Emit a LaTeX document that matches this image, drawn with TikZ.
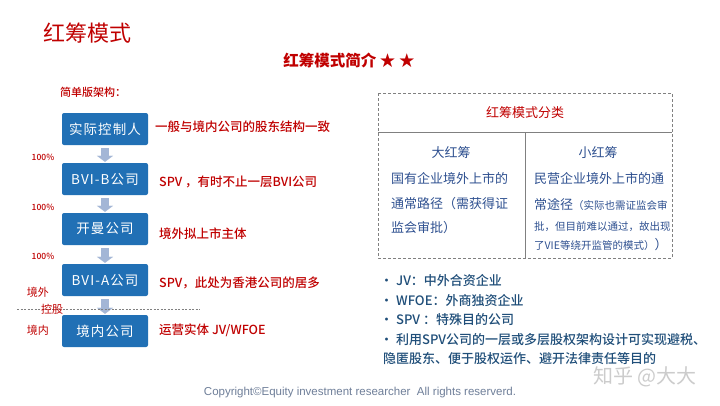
\documentclass[tikz,border=0pt]{standalone}
\usepackage{fontspec}
\setmainfont{Noto Sans CJK SC}
\newfontfamily\medfont{Noto Sans CJK SC Medium}
\newfontfamily\boxfont[LetterSpace=8]{Noto Sans CJK SC}
\newfontfamily\footfont{Liberation Sans}
\usetikzlibrary{positioning, arrows.meta}
\definecolor{hcred}{HTML}{C00000}
\definecolor{hcblue}{HTML}{2170B5}
\definecolor{hcarrow}{HTML}{A3B6D6}
\definecolor{hcnavy}{HTML}{2E5090}
\definecolor{hcdeep}{HTML}{1F4E79}
\definecolor{hcgrey}{HTML}{808080}
\definecolor{hcfoot}{HTML}{6F7F99}
\definecolor{hcmark}{HTML}{CCCCCC}

\tikzset{
  entity/.style={fill=hcblue, rounded corners=2pt, text=white, inner sep=0pt,
                 minimum width=86pt, minimum height=32pt,
                 font=\boxfont\fontsize{13.5}{16}\selectfont},
  note/.style={anchor=west, text=hcred, inner sep=0pt,
               font=\medfont\fontsize{12.5}{15}\selectfont},
  pct/.style={text=hcred, inner sep=0pt, font=\medfont\fontsize{8.5}{10}\selectfont},
  side/.style={text=hcred, inner sep=0pt, font=\fontsize{11}{13}\selectfont},
  flow/.style={draw=hcarrow, line width=8pt,
               -{Triangle[width=16pt,length=6pt,line width=0.1pt]},
               shorten <=3pt, shorten >=1pt},
  classtext/.style={anchor=west, text=hcnavy, inner sep=0pt,
                    font=\fontsize{13}{15}\selectfont},
  bullet/.style={anchor=west, text=hcdeep, inner sep=0pt,
                 font=\medfont\fontsize{13}{15}\selectfont},
}

\begin{document}
\begin{tikzpicture}[x=1pt, y=-1pt]
    \useasboundingbox[fill=white] (0,0) rectangle (720,405);

    % titles
    \node[anchor=west, text=hcred, inner sep=0pt, font=\fontsize{22}{24}\selectfont]
          (title) at (43,33) {红筹模式};
    \node[text=hcred, inner sep=0pt, font=\fontsize{15.5}{18}\selectfont\bfseries]
          (intro) at (349,60) {红筹模式简介 ★ ★};
    \node[anchor=west, text=hcred, inner sep=0pt, font=\medfont\fontsize{11}{13}\selectfont]
          (simple) at (60,92) {简单版架构：};

    % structure chain
    \node[entity] (ctrl) at (105,129) {实际控制人};
    \node[entity] (bvib) at (105,179) {BVI-B公司};
    \node[entity] (kaiman) at (105,229) {开曼公司};
    \node[entity] (bvia) at (105,280) {BVI-A公司};
    \node[entity] (domestic) at (105,331) {境内公司};
    \draw[flow] (ctrl) -- (bvib);
    \draw[flow] (bvib) -- (kaiman);
    \draw[flow] (kaiman) -- (bvia);
    \draw[flow] (bvia) -- (domestic);

    \node[pct] (p1) at (43,157) {100\%};
    \node[pct] (p2) at (43,207) {100\%};
    \node[pct] (p3) at (43,256) {100\%};

    \node[note] (n1) at (155,127) {一般与境内公司的股东结构一致};
    \node[note] (n2) at (159,182) {SPV ，有时不止一层BVI公司};
    \node[note] (n3) at (159,234) {境外拟上市主体};
    \node[note] (n4) at (159,283) {SPV，此处为香港公司的居多};
    \node[note] (n5) at (159,330) {运营实体 JV/WFOE};

    % border line
    \coordinate (bl) at (17,309);
    \coordinate (br) at (200,309);
    \draw[hcgrey, dash pattern=on 2pt off 1.5pt, line width=0.6pt] (bl) -- (br);
    \node[side] (abroad) at (38,292) {境外};
    \node[side] (hold) at (52,309) {控股};
    \node[side] (inland) at (38,330) {境内};

    % classification table
    \draw[hcgrey, dash pattern=on 3pt off 2pt, line width=0.6pt] (378,93) rectangle (672,258);
    \draw[hcgrey, line width=0.6pt] (378,132) -- (672,132);
    \draw[hcgrey, line width=0.6pt] (525,132) -- (525,258);
    \node[text=hcred, inner sep=0pt, font=\fontsize{13}{15}\selectfont] (cls) at (525,113) {红筹模式分类};
    \node[text=hcnavy, inner sep=0pt, font=\fontsize{13}{15}\selectfont] (big) at (451,153) {大红筹};
    \node[text=hcnavy, inner sep=0pt, font=\fontsize{13}{15}\selectfont] (small) at (598,153) {小红筹};
    \node[classtext] (b1) at (391,179) {国有企业境外上市的};
    \node[classtext] (b2) at (391,204) {通常路径（需获得证};
    \node[classtext] (b3) at (391,228) {监会审批）};
    \node[classtext] (s1) at (534,179) {民营企业境外上市的通};
    \node[classtext] (s2) at (534,204) {常途径{\fontsize{10.5}{12}\selectfont（实际也需证监会审}};
    \node[classtext, font=\fontsize{10.5}{12}\selectfont] (s3) at (534,227) {批，但目前难以通过，故出现};
    \node[classtext, font=\fontsize{10.5}{12}\selectfont] (s4) at (534,245) {了VIE等绕开监管的模式）{\fontsize{13}{15}\selectfont）}};

    % glossary
    \node[bullet] (g1) at (380,281) {• JV：中外合资企业};
    \node[bullet] (g2) at (380,301) {• WFOE：外商独资企业};
    \node[bullet] (g3) at (380,320) {• SPV ：特殊目的公司};
    \node[bullet] (g4) at (380,340) {• 利用SPV公司的一层或多层股权架构设计可实现避税、};
    \node[bullet] (g5) at (383,359) {隐匿股东、便于股权运作、避开法律责任等目的};

    \node[text=hcmark, inner sep=0pt, font=\fontsize{20}{22}\selectfont] (mark) at (645,377) {知乎 @大大};
    \node[text=hcfoot, inner sep=0pt, font=\footfont\fontsize{11.5}{13}\selectfont]
          (foot) at (360,393) {Copyright©Equity investment researcher\ \ All rights reserverd.};
\end{tikzpicture}
\end{document}
